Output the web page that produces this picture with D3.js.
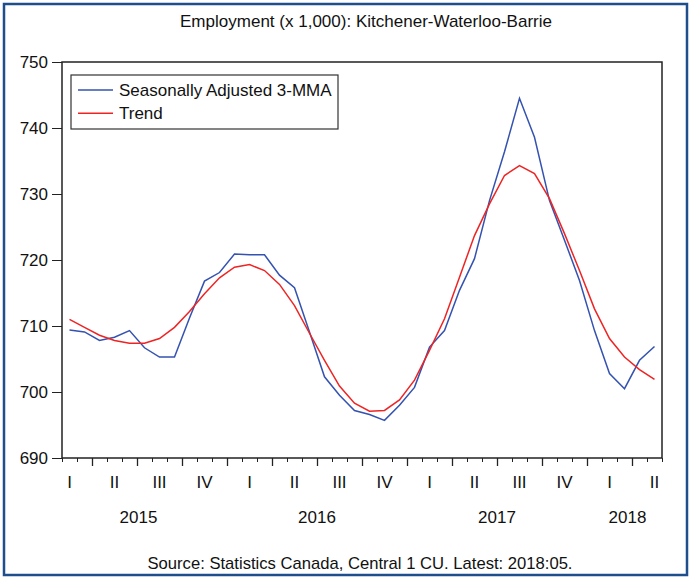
<!DOCTYPE html>
<html>
<head>
<meta charset="utf-8">
<script src="https://cdn.jsdelivr.net/npm/d3@7"></script>
<style>
  body { margin: 0; background: #fff; }
  text { font-family: "Liberation Sans", Arial, sans-serif; fill: #111; }
</style>
</head>
<body>
<div id="chart"></div>
<script>
// monthly points, Feb 2015 .. May 2018 (index 0 = Feb 2015)
const firstMonth = "2015-02";
const seasAdj3mma = [709.4, 709.1, 707.8, 708.3, 709.3, 706.7, 705.3, 705.3,
  711.2, 716.8, 718.1, 720.9, 720.8, 720.8, 717.7, 715.8,
  709.1, 702.3, 699.5, 697.2, 696.6, 695.7, 698.0, 700.7,
  706.8, 709.3, 715.4, 720.2, 729.0, 736.4, 744.5, 738.6,
  729.0, 723.0, 716.9, 709.3, 702.8, 700.5, 704.8, 706.9];
const trend = [711.0, 709.8, 708.6, 707.8, 707.4, 707.4, 708.1, 709.8,
  712.2, 714.9, 717.3, 718.9, 719.3, 718.4, 716.3, 713.1,
  708.9, 704.8, 700.9, 698.3, 697.1, 697.2, 698.8, 701.8,
  706.3, 711.1, 717.4, 723.7, 728.5, 732.8, 734.3, 733.1,
  729.3, 724.0, 718.4, 712.6, 708.1, 705.3, 703.4, 701.9];

const yTicks = [690, 700, 710, 720, 730, 740, 750];
const quarterLabels = ["I", "II", "III", "IV", "I", "II", "III", "IV", "I", "II", "III", "IV", "I", "II"];
const yearLabels = ["2015", "2016", "2017", "2018"];
// year label position, in months since Jan 2015
const yearPos = [6.1, 18, 30, 38.7];

const seriesNames = ["Seasonally Adjusted 3-MMA", "Trend"];
const seriesColors = ["#3452b0", "#ee2424"];

const width = 691, height = 581;
const margin = {top: 62, right: 29, bottom: 123, left: 62};

let svg = d3.select("#chart")
    .append("svg")
    .attr("width", width)
    .attr("height", height);

// outer blue frame
svg.append("rect")
    .attr("x", 4).attr("y", 4)
    .attr("width", 683).attr("height", 571)
    .attr("fill", "none")
    .attr("stroke", "#1f4e8d")
    .attr("stroke-width", 2.5);

// x is months since Jan 2015; the plot shows Feb 2015 .. end of May 2018
let x = d3.scaleLinear()
    .domain([1, 41])
    .range([margin.left, width - margin.right]);

let y = d3.scaleLinear()
    .domain([690, 750])
    .range([height - margin.bottom, margin.top]);

let offset = 1 + 0.5; // Feb 2015 centred in its month
let xi = i => x(offset + i);

// title
svg.append("text")
    .attr("x", 366)
    .attr("y", 27)
    .attr("text-anchor", "middle")
    .style("font-size", "17px")
    .attr("textLength", 372)
    .attr("lengthAdjust", "spacingAndGlyphs")
    .text("Employment (x 1,000): Kitchener-Waterloo-Barrie");

// y axis
let yAxis = svg.append("g")
    .attr("transform", `translate(${margin.left}, 0)`)
    .call(d3.axisLeft(y).tickValues(yTicks).tickSize(10).tickPadding(4).tickFormat(d3.format("d")));
yAxis.select(".domain").remove();
yAxis.selectAll("line").attr("stroke", "#222");
yAxis.selectAll("text").style("font-size", "17px").style("font-family", "Liberation Sans, Arial, sans-serif").attr("fill", "#111");

// x ticks: month boundaries (short) and quarter boundaries (long)
let monthTicks = svg.append("g")
    .attr("transform", `translate(0, ${height - margin.bottom})`)
    .call(d3.axisBottom(x).tickValues(d3.range(1, 42)).tickSize(4).tickFormat(""));
monthTicks.select(".domain").remove();
monthTicks.selectAll("line").attr("stroke", "#222");

let quarterTicks = svg.append("g")
    .attr("transform", `translate(0, ${height - margin.bottom})`)
    .call(d3.axisBottom(x).tickValues(d3.range(3, 41, 3)).tickSize(8).tickFormat(""));
quarterTicks.select(".domain").remove();
quarterTicks.selectAll("line").attr("stroke", "#222").attr("stroke-width", 1.3);

// quarter labels
svg.append("g").selectAll("text")
    .data(quarterLabels)
    .enter()
    .append("text")
    .attr("x", (d, k) => x(1.5 + 3 * k))
    .attr("y", 488)
    .attr("text-anchor", "middle")
    .style("font-size", "17px")
    .text(d => d);

// year labels
svg.append("g").selectAll("text")
    .data(yearLabels)
    .enter()
    .append("text")
    .attr("x", (d, k) => x(yearPos[k]))
    .attr("y", 523)
    .attr("text-anchor", "middle")
    .style("font-size", "17px")
    .text(d => d);

// lines
let line = d3.line()
    .x((d, i) => xi(i))
    .y(d => y(d));

[seasAdj3mma, trend].forEach(function(series, k) {
  svg.append("path")
      .datum(series)
      .attr("fill", "none")
      .attr("stroke", seriesColors[k])
      .attr("stroke-width", 1.5)
      .attr("stroke-linejoin", "miter")
      .attr("d", line);
});

// plot frame
svg.append("rect")
    .attr("x", margin.left)
    .attr("y", margin.top)
    .attr("width", width - margin.left - margin.right)
    .attr("height", height - margin.top - margin.bottom)
    .attr("fill", "none")
    .attr("stroke", "#222")
    .attr("stroke-width", 1.5);

// legend
let legend = svg.append("g");
legend.append("rect")
    .attr("x", 71).attr("y", 75)
    .attr("width", 267).attr("height", 54)
    .attr("fill", "#fff")
    .attr("stroke", "#333")
    .attr("stroke-width", 1.2);

seriesNames.forEach(function(name, k) {
  let ly = 90 + k * 23.3;
  legend.append("line")
      .attr("x1", 78).attr("x2", 113)
      .attr("y1", ly).attr("y2", ly)
      .attr("stroke", seriesColors[k])
      .attr("stroke-width", 1.5);
  legend.append("text")
      .attr("x", 119)
      .attr("y", ly + 6)
      .style("font-size", "17px")
      .text(name);
});

// source note
svg.append("text")
    .attr("x", 360)
    .attr("y", 569)
    .attr("text-anchor", "middle")
    .style("font-size", "17px")
    .attr("textLength", 425)
    .attr("lengthAdjust", "spacingAndGlyphs")
    .text("Source: Statistics Canada, Central 1 CU. Latest: 2018:05.");
</script>
</body>
</html>
